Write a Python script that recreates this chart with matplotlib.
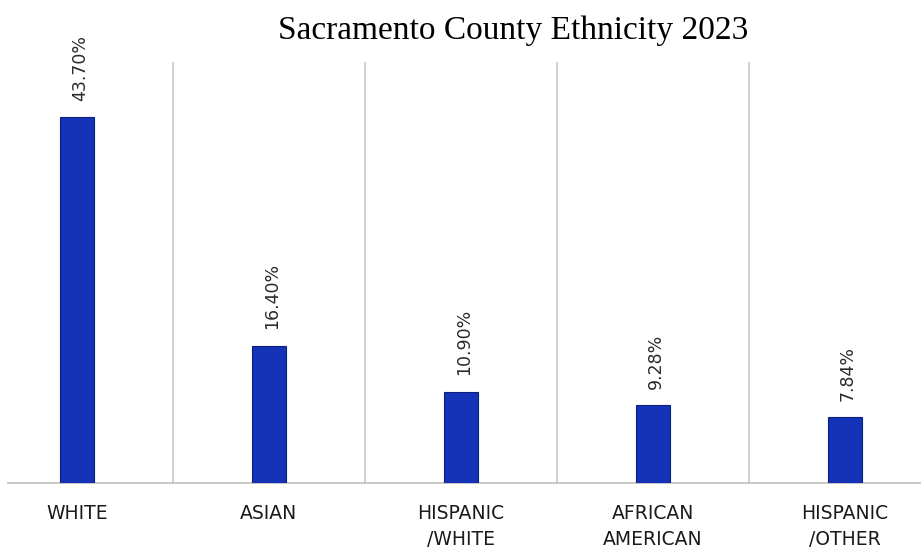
import matplotlib.pyplot as plt
import numpy as np

categories = ['WHITE', 'ASIAN', 'HISPANIC\n/WHITE', 'AFRICAN\nAMERICAN', 'HISPANIC\n/OTHER']
values = [43.70, 16.40, 10.90, 9.28, 7.84]
value_labels = ['43.70%', '16.40%', '10.90%', '9.28%', '7.84%']

plt.rcParams['font.family'] = ['DejaVu Sans']

fig = plt.figure(figsize=(9.21, 5.51), dpi=100)
ax = fig.add_axes([8 / 921, 68 / 551, 913 / 921, 421 / 551])

x = np.arange(len(categories))
bars = ax.bar(x, values, width=0.177, color='#1533b8', edgecolor='#0c1f7a', linewidth=0.8, zorder=3)

# separators between categories
for s in x[:-1] + 0.5:
    ax.axvline(s, color='#c8c8c8', linewidth=1.2, zorder=1)

for b, lab in zip(bars, value_labels):
    ax.annotate(lab, (b.get_x() + b.get_width() / 2, b.get_height()),
                xytext=(2, 12), textcoords='offset points',
                rotation=90, ha='center', va='bottom',
                fontsize=12.5, color='#2a2a2a')

ax.set_xlim(-0.359, 4.396)
ax.set_ylim(0, 50.3)
ax.set_xticks(x)
ax.set_xticklabels(categories, fontsize=13.5, color='#1a1a1a', linespacing=1.45)
ax.tick_params(axis='x', length=0, pad=15)
ax.set_yticks([])
for side in ['top', 'left', 'right']:
    ax.spines[side].set_visible(False)
ax.spines['bottom'].set_color('#c0c0c0')
ax.spines['bottom'].set_linewidth(1.2)

fig.text(513 / 921, 1 - 31 / 551, 'Sacramento County Ethnicity 2023',
         family='Liberation Serif', fontsize=24, ha='center', va='center')

fig.savefig('out.png', dpi=100)
